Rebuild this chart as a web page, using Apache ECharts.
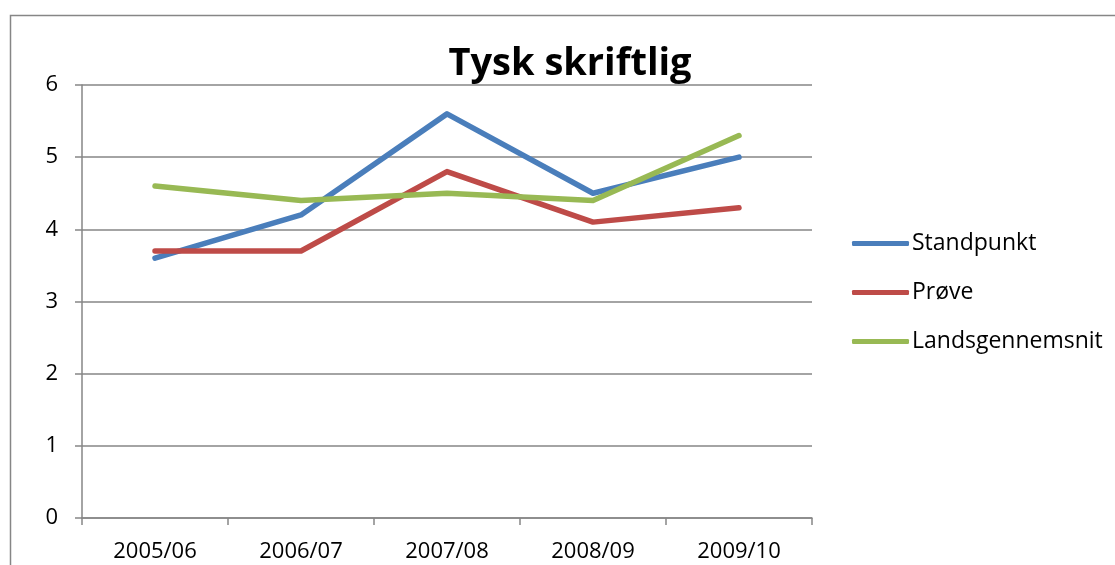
<!DOCTYPE html>
<html>
<head>
<meta charset="utf-8">
<script src="https://cdn.jsdelivr.net/npm/echarts@6/dist/echarts.min.js"></script>
<style>
html, body {
  margin: 0;
  padding: 0;
  background: #fff;
}
#chart {
  width: 1115px;
  height: 565px;
}
</style>
</head>
<body>
<div id="chart"></div>
<script>
// data
var years = ["2005/06", "2006/07", "2007/08", "2008/09", "2009/10"];
var standpunkt = [3.6, 4.2, 5.6, 4.5, 5.0];
var proeve = [3.7, 3.7, 4.8, 4.1, 4.3];
var landsgennemsnit = [4.6, 4.4, 4.5, 4.4, 5.3];

var font = "Open Sans";
var gray = "#868686";

var chart = echarts.init(document.getElementById("chart"));
chart.setOption({
  animation: false,
  title: {
    text: "Tysk skriftlig",
    left: 565,
    top: 40,
    textAlign: "center",
    textStyle: { fontFamily: font, fontSize: 38, fontWeight: "bold", color: "#000" }
  },
  graphic: [
    {
      type: "rect",
      left: 8,
      top: 13,
      shape: { width: 1300, height: 700 },
      style: { fill: "none", stroke: gray, lineWidth: 1.5 },
      silent: true
    }
  ],
  legend: {
    orient: "vertical",
    left: 847,
    top: 227,
    icon: "roundRect",
    itemWidth: 57,
    itemHeight: 5,
    itemGap: 26,
    textStyle: { fontFamily: font, fontSize: 23, color: "#000", padding: [0, 0, 0, -2] },
    data: ["Standpunkt", "Prøve", "Landsgennemsnit"]
  },
  grid: {
    left: 82,
    right: 303,
    top: 85,
    bottom: 47
  },
  xAxis: {
    type: "category",
    boundaryGap: true,
    data: years,
    axisLine: { lineStyle: { color: gray, width: 1.5 } },
    axisTick: { show: true, length: 7, lineStyle: { color: gray, width: 1.5 } },
    axisLabel: { fontFamily: font, fontSize: 22, color: "#000", margin: 23 }
  },
  yAxis: {
    type: "value",
    min: 0,
    max: 6,
    interval: 1,
    axisLine: { show: true, lineStyle: { color: gray, width: 1.5 } },
    axisTick: { show: true, length: 7, lineStyle: { color: gray, width: 1.5 } },
    splitLine: { lineStyle: { color: gray, width: 1.5 } },
    axisLabel: { fontFamily: font, fontSize: 22, color: "#000", margin: 24 }
  },
  series: [
    {
      name: "Standpunkt",
      type: "line",
      data: standpunkt,
      symbol: "none",
      color: "#4a7ebb",
      lineStyle: { width: 5.5, cap: "round", join: "round" }
    },
    {
      name: "Prøve",
      type: "line",
      data: proeve,
      symbol: "none",
      color: "#be4b48",
      lineStyle: { width: 5.5, cap: "round", join: "round" }
    },
    {
      name: "Landsgennemsnit",
      type: "line",
      data: landsgennemsnit,
      symbol: "none",
      color: "#98b954",
      lineStyle: { width: 5.5, cap: "round", join: "round" }
    }
  ]
});
</script>
</body>
</html>
